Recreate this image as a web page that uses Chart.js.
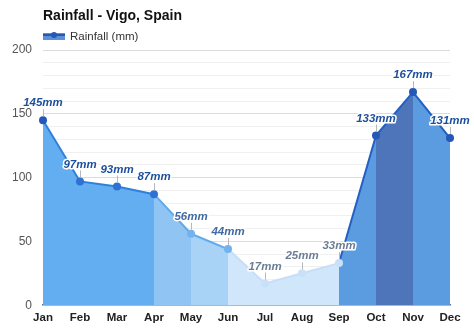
<!DOCTYPE html>
<html>
<head>
<meta charset="utf-8">
<title>Rainfall - Vigo, Spain</title>
<script src="https://cdn.jsdelivr.net/npm/chart.js@4.4.0/dist/chart.umd.min.js"></script>
<style>
  html, body { margin: 0; padding: 0; background: #fff; }
  #wrap { position: relative; width: 474px; height: 331px; font-family: "Liberation Sans", Arial, sans-serif; }
  #myChart { position: absolute; left: 0; top: 0; }
  #title { position: absolute; left: 43px; top: 7px; font-size: 14px; font-weight: bold; color: #111; white-space: nowrap; }
  #legend { position: absolute; left: 43px; top: 29px; height: 14px; display: flex; align-items: center; font-size: 11.5px; color: #333; }
  #legend .icon { position: relative; width: 22px; height: 7px; margin-right: 5px; background: #5b8fd8; }
  #legend .icon .ln { position: absolute; left: 0; right: 0; top: 1px; height: 2px; background: #2358b5; }
  #legend .icon .dot { position: absolute; left: 8px; top: -1px; width: 6px; height: 6px; border-radius: 50%; background: #2358b5; }
</style>
</head>
<body>
<div id="wrap">
  <canvas id="myChart" width="474" height="331"></canvas>
  <div id="title">Rainfall - Vigo, Spain</div>
  <div id="legend"><span class="icon"><span class="ln"></span><span class="dot"></span></span>Rainfall (mm)</div>
</div>
<script>
// data
const months = ['Jan', 'Feb', 'Mar', 'Apr', 'May', 'Jun', 'Jul', 'Aug', 'Sep', 'Oct', 'Nov', 'Dec'];
const rainfall = [145, 97, 93, 87, 56, 44, 17, 25, 33, 133, 167, 131];
const yTicks = [0, 50, 100, 150, 200];

// colours by how wet a month is
function fillFor(v) {
  if (v >= 150) return '#4e75b9';
  if (v >= 120) return '#5b9be0';
  if (v >= 80) return '#62aef0';
  if (v >= 50) return '#8fc4f3';
  if (v >= 40) return '#a8d2f6';
  return '#cfe6fb';
}
function lineFor(v) {
  if (v >= 120) return '#2360c2';
  if (v >= 80) return '#2f7fdc';
  if (v >= 40) return '#62a9ec';
  return '#c6def8';
}
function pointFor(v) {
  if (v >= 120) return '#2358b8';
  if (v >= 80) return '#2d72d2';
  if (v >= 40) return '#72b2ef';
  return '#c8e1f8';
}
function labelFor(v) {
  if (v >= 80) return '#1d4f9c';
  if (v >= 40) return '#4169a3';
  return '#6b7d96';
}

// value labels
const valueLabels = {
  id: 'valueLabels',
  afterDatasetsDraw(chart) {
    const ctx = chart.ctx;
    const meta = chart.getDatasetMeta(0);
    ctx.save();
    ctx.font = 'italic bold 11.5px "Liberation Sans", Arial, sans-serif';
    ctx.textAlign = 'center';
    ctx.textBaseline = 'middle';
    meta.data.forEach(function (pt, i) {
      const v = rainfall[i];
      ctx.strokeStyle = '#b8b8b8';
      ctx.lineWidth = 1;
      ctx.beginPath();
      ctx.moveTo(pt.x + 0.5, pt.y - 4);
      ctx.lineTo(pt.x + 0.5, pt.y - 11);
      ctx.stroke();
      const txt = v + 'mm';
      ctx.lineWidth = 3;
      ctx.lineJoin = 'round';
      ctx.strokeStyle = '#fff';
      ctx.strokeText(txt, pt.x, pt.y - 17);
      ctx.fillStyle = labelFor(v);
      ctx.fillText(txt, pt.x, pt.y - 17);
    });
    ctx.restore();
  }
};

const config = {
  type: 'line',
  data: {
    labels: months,
    datasets: [{
      label: 'Rainfall (mm)',
      data: rainfall,
      fill: 'origin',
      borderWidth: 2,
      tension: 0,
      pointRadius: 4,
      pointBorderWidth: 0,
      pointBackgroundColor: function (c) { return pointFor(rainfall[c.dataIndex]); },
      pointBorderColor: function (c) { return pointFor(rainfall[c.dataIndex]); },
      segment: {
        backgroundColor: function (c) { return fillFor(rainfall[c.p1DataIndex]); },
        borderColor: function (c) { return lineFor(rainfall[c.p1DataIndex]); }
      }
    }]
  },
  options: {
    responsive: false,
    animation: false,
    devicePixelRatio: 1,
    layout: { padding: { top: 50, right: 24, bottom: 0, left: 0 } },
    plugins: {
      legend: { display: false },
      title: { display: false },
      tooltip: { enabled: false }
    },
    scales: {
      x: {
        offset: false,
        grid: { display: false, drawTicks: false },
        border: { display: true, color: '#5b7290', width: 1.5 },
        ticks: {
          autoSkip: false,
          maxRotation: 0,
          padding: 6,
          color: '#222',
          font: { family: '"Liberation Sans", Arial, sans-serif', size: 11.5, weight: 'bold' }
        }
      },
      y: {
        min: 0,
        max: 200,
        afterFit: function (s) { s.width = 43; },
        border: { display: false },
        grid: {
          drawTicks: false,
          color: function (c) {
            if (c.tick.value === 0) return 'rgba(0,0,0,0)';
            return yTicks.includes(c.tick.value) ? '#dcdcdc' : '#f0f0f0';
          }
        },
        ticks: {
          stepSize: 10,
          autoSkip: false,
          padding: 11,
          color: '#555',
          font: { family: '"Liberation Sans", Arial, sans-serif', size: 12 },
          callback: function (v) { return yTicks.includes(v) ? v : ''; }
        }
      }
    }
  },
  plugins: [valueLabels]
};

const myChart = new Chart(document.getElementById('myChart'), config);
</script>
</body>
</html>
